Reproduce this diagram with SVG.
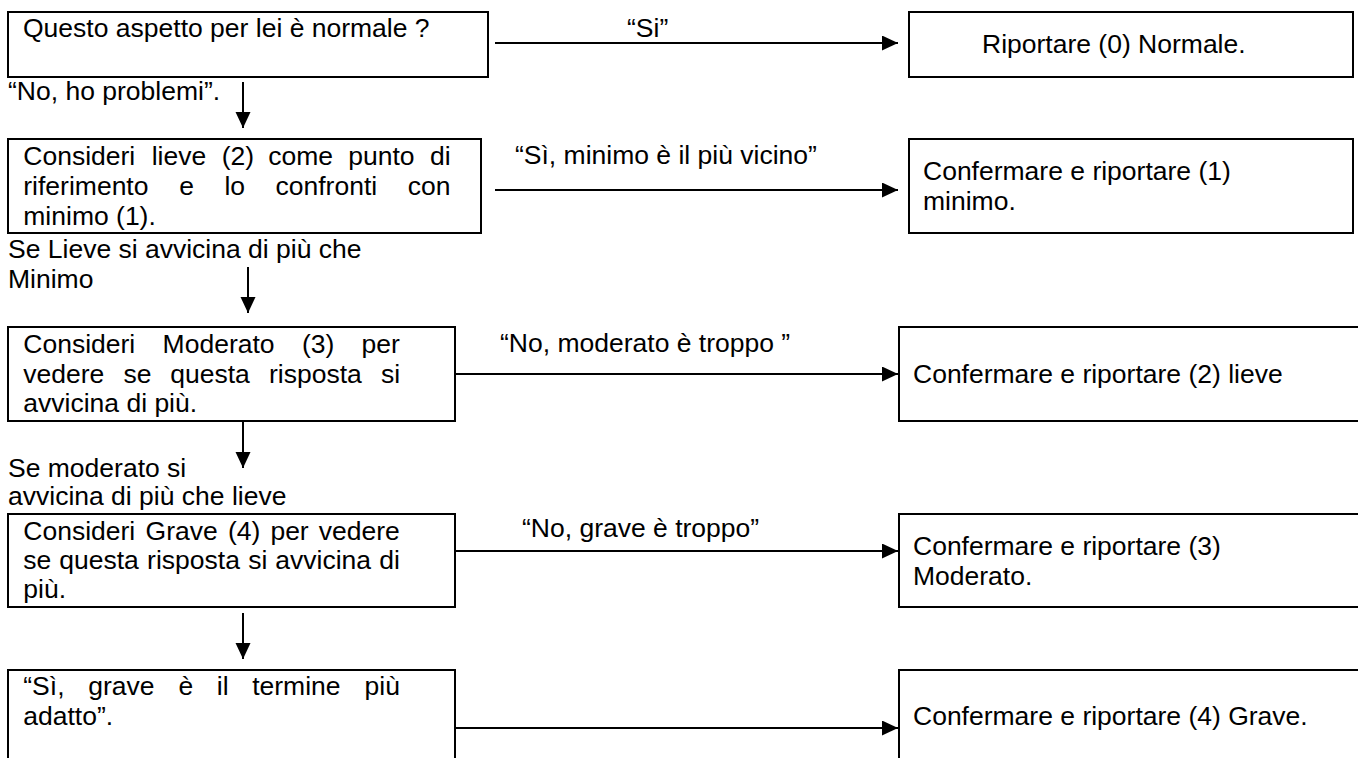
<svg xmlns="http://www.w3.org/2000/svg" width="1358" height="758" viewBox="0 0 1358 758">
<style>
  .box { fill: #ffffff; stroke: #000000; stroke-width: 2; }
  .t { font-family: "Liberation Sans", Arial, sans-serif; font-size: 26.5px; fill: #000000; }
  .conn { stroke: #000000; stroke-width: 2; fill: none; marker-end: url(#arrow); }
</style>
<defs>
  <marker id="arrow" markerUnits="userSpaceOnUse" markerWidth="17" markerHeight="16" refX="16" refY="7.5" orient="auto">
    <path d="M0,0 L16,7.5 L0,15 z" fill="#000000"/>
  </marker>
</defs>
<rect width="1358" height="758" fill="#ffffff"/>

<g id="q1">
  <rect class="box" x="8" y="12" width="480" height="65"/>
  <text class="t" x="23" y="37">Questo aspetto per lei è normale ?</text>
</g>
<g id="r0">
  <rect class="box" x="909" y="12" width="444" height="65"/>
  <text class="t" x="982" y="53">Riportare (0) Normale.</text>
</g>
<g id="q2">
  <rect class="box" x="8" y="139" width="473" height="94"/>
  <text class="t" y="165"><tspan x="23.3">Consideri</tspan><tspan x="151.7">lieve</tspan><tspan x="221.7">(2)</tspan><tspan x="268.3">come</tspan><tspan x="348.3">punto</tspan><tspan x="430">di</tspan></text>
  <text class="t" y="195"><tspan x="23.3">riferimento</tspan><tspan x="179.3">e</tspan><tspan x="224.4">lo</tspan><tspan x="275.5">confronti</tspan><tspan x="407.8">con</tspan></text>
  <text class="t" x="23.3" y="225">minimo (1).</text>
</g>
<g id="r1">
  <rect class="box" x="909" y="139" width="444" height="94"/>
  <text class="t" x="923" y="180">Confermare e riportare (1)</text>
  <text class="t" x="923" y="210">minimo.</text>
</g>
<g id="q3">
  <rect class="box" x="8" y="327" width="447" height="94"/>
  <text class="t" y="353"><tspan x="23.3">Consideri</tspan><tspan x="162.6">Moderato</tspan><tspan x="302">(3)</tspan><tspan x="361.5">per</tspan></text>
  <text class="t" y="383"><tspan x="23.3">vedere</tspan><tspan x="123.4">se</tspan><tspan x="170.3">questa</tspan><tspan x="269">risposta</tspan><tspan x="380.9">si</tspan></text>
  <text class="t" x="23.3" y="412">avvicina di più.</text>
</g>
<g id="r2">
  <rect class="box" x="899" y="327" width="470" height="94"/>
  <text class="t" x="913" y="383">Confermare e riportare (2) lieve</text>
</g>
<g id="q4">
  <rect class="box" x="8" y="514" width="447" height="93"/>
  <text class="t" y="540"><tspan x="23.3">Consideri</tspan><tspan x="145.6">Grave</tspan><tspan x="227.9">(4)</tspan><tspan x="270.4">per</tspan><tspan x="318.7">vedere</tspan></text>
  <text class="t" y="569"><tspan x="23.3">se</tspan><tspan x="59.3">questa</tspan><tspan x="147.1">risposta</tspan><tspan x="248.2">si</tspan><tspan x="275.3">avvicina</tspan><tspan x="379.3">di</tspan></text>
  <text class="t" x="23.3" y="598">più.</text>
</g>
<g id="r3">
  <rect class="box" x="899" y="514" width="470" height="93"/>
  <text class="t" x="913" y="555">Confermare e riportare (3)</text>
  <text class="t" x="913" y="585">Moderato.</text>
</g>
<g id="q5">
  <rect class="box" x="8" y="670" width="447" height="100"/>
  <text class="t" y="695"><tspan x="23.3">“Sì,</tspan><tspan x="88.3">grave</tspan><tspan x="178.4">è</tspan><tspan x="216.8">il</tspan><tspan x="252.2">termine</tspan><tspan x="364.5">più</tspan></text>
  <text class="t" x="23.3" y="725">adatto”.</text>
</g>
<g id="r4">
  <rect class="box" x="899" y="670" width="470" height="100"/>
  <text class="t" x="913" y="725">Confermare e riportare (4) Grave.</text>
</g>

<g id="connectors">
  <line class="conn" x1="495" y1="43" x2="898" y2="43"/>
  <line class="conn" x1="495" y1="190" x2="898" y2="190"/>
  <line class="conn" x1="455" y1="374" x2="898" y2="374"/>
  <line class="conn" x1="455" y1="551" x2="898" y2="551"/>
  <line class="conn" x1="455" y1="728" x2="898" y2="728"/>
  <line class="conn" x1="243" y1="82" x2="243" y2="128"/>
  <line class="conn" x1="248" y1="267" x2="248" y2="313"/>
  <line class="conn" x1="243" y1="422" x2="243" y2="468"/>
  <line class="conn" x1="243" y1="613" x2="243" y2="659"/>
  <text class="t" x="627" y="37">“Si”</text>
  <text class="t" x="515" y="164">“Sì, minimo è il più vicino”</text>
  <text class="t" x="500" y="352">“No, moderato è troppo ”</text>
  <text class="t" x="522" y="537">“No, grave è troppo”</text>
  <text class="t" x="8" y="100">“No, ho problemi”.</text>
  <text class="t" x="8" y="258">Se Lieve si avvicina di più che</text>
  <text class="t" x="8" y="288">Minimo</text>
  <text class="t" x="8" y="477">Se moderato si</text>
  <text class="t" x="8" y="505">avvicina di più che lieve</text>
</g>
</svg>
